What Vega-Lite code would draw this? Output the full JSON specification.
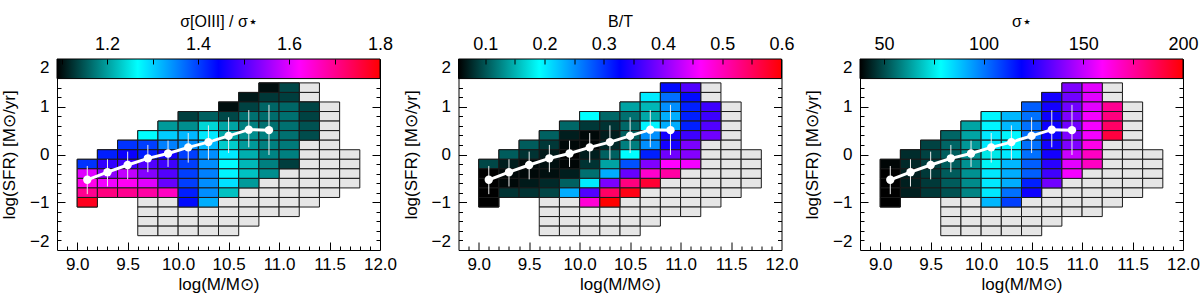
{
  "$schema": "https://vega.github.io/schema/vega-lite/v6.json",
  "background": "white",
  "padding": {"left": 0, "top": 12, "right": 0, "bottom": 0},
  "config": {
    "font": "Liberation Sans",
    "view": {"stroke": "#000", "strokeWidth": 1},
    "axis": {"labelFontSize": 17, "titleFontSize": 17, "labelColor": "#000", "titleColor": "#000", "titleFontWeight": "normal", "tickColor": "#000", "grid": false, "domain": false}
  },
  "datasets": {
    "cells": [
      {"m0":10.8,"m1":11.0,"s0":1.3,"s1":1.5,"r":1.10,"bt":0.322,"sig":139},
      {"m0":11.0,"m1":11.2,"s0":1.3,"s1":1.5,"r":1.14,"bt":0.371,"sig":155},
      {"m0":11.2,"m1":11.4,"s0":1.3,"s1":1.5},
      {"m0":10.6,"m1":10.8,"s0":1.1,"s1":1.3,"r":1.108,"bt":0.202,"sig":122},
      {"m0":10.8,"m1":11.0,"s0":1.1,"s1":1.3,"r":1.129,"bt":0.268,"sig":137},
      {"m0":11.0,"m1":11.2,"s0":1.1,"s1":1.3,"r":1.133,"bt":0.322,"sig":155},
      {"m0":11.2,"m1":11.4,"s0":1.1,"s1":1.3},
      {"m0":10.4,"m1":10.6,"s0":0.9,"s1":1.1,"r":1.10,"bt":0.142,"sig":104},
      {"m0":10.6,"m1":10.8,"s0":0.9,"s1":1.1,"r":1.136,"bt":0.153,"sig":122},
      {"m0":10.8,"m1":11.0,"s0":0.9,"s1":1.1,"r":1.161,"bt":0.251,"sig":137},
      {"m0":11.0,"m1":11.2,"s0":0.9,"s1":1.1,"r":1.161,"bt":0.311,"sig":155},
      {"m0":11.2,"m1":11.4,"s0":0.9,"s1":1.1,"r":1.138,"bt":0.360,"sig":177},
      {"m0":11.4,"m1":11.6,"s0":0.9,"s1":1.1},
      {"m0":10.0,"m1":10.2,"s0":0.7,"s1":0.9,"r":1.133,"bt":0.191,"sig":80},
      {"m0":10.2,"m1":10.4,"s0":0.7,"s1":0.9,"r":1.157,"bt":0.110,"sig":90},
      {"m0":10.4,"m1":10.6,"s0":0.7,"s1":0.9,"r":1.14,"bt":0.115,"sig":101},
      {"m0":10.6,"m1":10.8,"s0":0.7,"s1":0.9,"r":1.168,"bt":0.145,"sig":121},
      {"m0":10.8,"m1":11.0,"s0":0.7,"s1":0.9,"r":1.165,"bt":0.235,"sig":139},
      {"m0":11.0,"m1":11.2,"s0":0.7,"s1":0.9,"r":1.168,"bt":0.311,"sig":158},
      {"m0":11.2,"m1":11.4,"s0":0.7,"s1":0.9,"r":1.136,"bt":0.360,"sig":180},
      {"m0":11.4,"m1":11.6,"s0":0.7,"s1":0.9},
      {"m0":9.8,"m1":10.0,"s0":0.5,"s1":0.7,"r":1.197,"bt":0.110,"sig":64},
      {"m0":10.0,"m1":10.2,"s0":0.5,"s1":0.7,"r":1.189,"bt":0.085,"sig":80},
      {"m0":10.2,"m1":10.4,"s0":0.5,"s1":0.7,"r":1.239,"bt":0.082,"sig":90},
      {"m0":10.4,"m1":10.6,"s0":0.5,"s1":0.7,"r":1.204,"bt":0.110,"sig":101},
      {"m0":10.6,"m1":10.8,"s0":0.5,"s1":0.7,"r":1.179,"bt":0.197,"sig":121},
      {"m0":10.8,"m1":11.0,"s0":0.5,"s1":0.7,"r":1.168,"bt":0.235,"sig":137},
      {"m0":11.0,"m1":11.2,"s0":0.5,"s1":0.7,"r":1.168,"bt":0.311,"sig":158},
      {"m0":11.2,"m1":11.4,"s0":0.5,"s1":0.7,"r":1.147,"bt":0.371,"sig":184},
      {"m0":11.4,"m1":11.6,"s0":0.5,"s1":0.7},
      {"m0":9.6,"m1":9.8,"s0":0.3,"s1":0.5,"r":1.268,"bt":0.107,"sig":54},
      {"m0":9.8,"m1":10.0,"s0":0.3,"s1":0.5,"r":1.303,"bt":0.071,"sig":64},
      {"m0":10.0,"m1":10.2,"s0":0.3,"s1":0.5,"r":1.317,"bt":0.060,"sig":82},
      {"m0":10.2,"m1":10.4,"s0":0.3,"s1":0.5,"r":1.282,"bt":0.071,"sig":80},
      {"m0":10.4,"m1":10.6,"s0":0.3,"s1":0.5,"r":1.207,"bt":0.107,"sig":101},
      {"m0":10.6,"m1":10.8,"s0":0.3,"s1":0.5,"r":1.189,"bt":0.251,"sig":121},
      {"m0":10.8,"m1":11.0,"s0":0.3,"s1":0.5,"r":1.179,"bt":0.338,"sig":139},
      {"m0":11.0,"m1":11.2,"s0":0.3,"s1":0.5,"r":1.168,"bt":0.360,"sig":158},
      {"m0":11.2,"m1":11.4,"s0":0.3,"s1":0.5,"r":1.143,"bt":0.387,"sig":190},
      {"m0":11.4,"m1":11.6,"s0":0.3,"s1":0.5},
      {"m0":9.4,"m1":9.6,"s0":0.1,"s1":0.3,"r":1.41,"bt":0.104,"sig":48.5},
      {"m0":9.6,"m1":9.8,"s0":0.1,"s1":0.3,"r":1.402,"bt":0.085,"sig":54},
      {"m0":9.8,"m1":10.0,"s0":0.1,"s1":0.3,"r":1.356,"bt":0.060,"sig":62},
      {"m0":10.0,"m1":10.2,"s0":0.1,"s1":0.3,"r":1.346,"bt":0.058,"sig":82},
      {"m0":10.2,"m1":10.4,"s0":0.1,"s1":0.3,"r":1.317,"bt":0.077,"sig":80},
      {"m0":10.4,"m1":10.6,"s0":0.1,"s1":0.3,"r":1.232,"bt":0.123,"sig":101},
      {"m0":10.6,"m1":10.8,"s0":0.1,"s1":0.3,"r":1.197,"bt":0.251,"sig":122},
      {"m0":10.8,"m1":11.0,"s0":0.1,"s1":0.3,"r":1.179,"bt":0.338,"sig":139},
      {"m0":11.0,"m1":11.2,"s0":0.1,"s1":0.3,"r":1.175,"bt":0.393,"sig":163},
      {"m0":11.2,"m1":11.4,"s0":0.1,"s1":0.3},
      {"m0":11.4,"m1":11.6,"s0":0.1,"s1":0.3},
      {"m0":9.2,"m1":9.4,"s0":-0.1,"s1":0.1,"r":1.424,"bt":0.104,"sig":45},
      {"m0":9.4,"m1":9.6,"s0":-0.1,"s1":0.1,"r":1.452,"bt":0.082,"sig":48.5},
      {"m0":9.6,"m1":9.8,"s0":-0.1,"s1":0.1,"r":1.424,"bt":0.069,"sig":53},
      {"m0":9.8,"m1":10.0,"s0":-0.1,"s1":0.1,"r":1.459,"bt":0.055,"sig":61},
      {"m0":10.0,"m1":10.2,"s0":-0.1,"s1":0.1,"r":1.402,"bt":0.071,"sig":75},
      {"m0":10.2,"m1":10.4,"s0":-0.1,"s1":0.1,"r":1.346,"bt":0.107,"sig":82},
      {"m0":10.4,"m1":10.6,"s0":-0.1,"s1":0.1,"r":1.282,"bt":0.191,"sig":101},
      {"m0":10.6,"m1":10.8,"s0":-0.1,"s1":0.1,"r":1.211,"bt":0.311,"sig":122},
      {"m0":10.8,"m1":11.0,"s0":-0.1,"s1":0.1,"r":1.182,"bt":0.387,"sig":151},
      {"m0":11.0,"m1":11.2,"s0":-0.1,"s1":0.1,"r":1.179,"bt":0.398,"sig":169},
      {"m0":11.2,"m1":11.4,"s0":-0.1,"s1":0.1},
      {"m0":11.4,"m1":11.6,"s0":-0.1,"s1":0.1},
      {"m0":11.6,"m1":11.8,"s0":-0.1,"s1":0.1},
      {"m0":9.0,"m1":9.2,"s0":-0.3,"s1":-0.1,"r":1.41,"bt":0.093,"sig":39},
      {"m0":9.2,"m1":9.4,"s0":-0.3,"s1":-0.1,"r":1.48,"bt":0.071,"sig":44.5},
      {"m0":9.4,"m1":9.6,"s0":-0.3,"s1":-0.1,"r":1.488,"bt":0.060,"sig":47.7},
      {"m0":9.6,"m1":9.8,"s0":-0.3,"s1":-0.1,"r":1.502,"bt":0.063,"sig":52.6},
      {"m0":9.8,"m1":10.0,"s0":-0.3,"s1":-0.1,"r":1.488,"bt":0.058,"sig":61},
      {"m0":10.0,"m1":10.2,"s0":-0.3,"s1":-0.1,"r":1.402,"bt":0.082,"sig":77},
      {"m0":10.2,"m1":10.4,"s0":-0.3,"s1":-0.1,"r":1.346,"bt":0.142,"sig":90},
      {"m0":10.4,"m1":10.6,"s0":-0.3,"s1":-0.1,"r":1.268,"bt":0.284,"sig":104},
      {"m0":10.6,"m1":10.8,"s0":-0.3,"s1":-0.1,"r":1.218,"bt":0.396,"sig":125.5},
      {"m0":10.8,"m1":11.0,"s0":-0.3,"s1":-0.1,"r":1.179,"bt":0.464,"sig":155},
      {"m0":11.0,"m1":11.2,"s0":-0.3,"s1":-0.1,"r":1.133,"bt":0.458,"sig":169},
      {"m0":11.2,"m1":11.4,"s0":-0.3,"s1":-0.1},
      {"m0":11.4,"m1":11.6,"s0":-0.3,"s1":-0.1},
      {"m0":11.6,"m1":11.8,"s0":-0.3,"s1":-0.1},
      {"m0":9.0,"m1":9.2,"s0":-0.5,"s1":-0.3,"r":1.601,"bt":0.055,"sig":38},
      {"m0":9.2,"m1":9.4,"s0":-0.5,"s1":-0.3,"r":1.544,"bt":0.060,"sig":43},
      {"m0":9.4,"m1":9.6,"s0":-0.5,"s1":-0.3,"r":1.58,"bt":0.060,"sig":47},
      {"m0":9.6,"m1":9.8,"s0":-0.5,"s1":-0.3,"r":1.537,"bt":0.063,"sig":52.6},
      {"m0":9.8,"m1":10.0,"s0":-0.5,"s1":-0.3,"r":1.502,"bt":0.071,"sig":61},
      {"m0":10.0,"m1":10.2,"s0":-0.5,"s1":-0.3,"r":1.402,"bt":0.115,"sig":82},
      {"m0":10.2,"m1":10.4,"s0":-0.5,"s1":-0.3,"r":1.356,"bt":0.235,"sig":91.5},
      {"m0":10.4,"m1":10.6,"s0":-0.5,"s1":-0.3,"r":1.275,"bt":0.382,"sig":104},
      {"m0":10.6,"m1":10.8,"s0":-0.5,"s1":-0.3,"r":1.225,"bt":0.491,"sig":129},
      {"m0":10.8,"m1":11.0,"s0":-0.5,"s1":-0.3,"r":1.189,"bt":0.513,"sig":158},
      {"m0":11.0,"m1":11.2,"s0":-0.5,"s1":-0.3},
      {"m0":11.2,"m1":11.4,"s0":-0.5,"s1":-0.3},
      {"m0":11.4,"m1":11.6,"s0":-0.5,"s1":-0.3},
      {"m0":11.6,"m1":11.8,"s0":-0.5,"s1":-0.3},
      {"m0":9.0,"m1":9.2,"s0":-0.7,"s1":-0.5,"r":1.637,"bt":0.055,"sig":38},
      {"m0":9.2,"m1":9.4,"s0":-0.7,"s1":-0.5,"r":1.615,"bt":0.060,"sig":43},
      {"m0":9.4,"m1":9.6,"s0":-0.7,"s1":-0.5,"r":1.63,"bt":0.069,"sig":47},
      {"m0":9.6,"m1":9.8,"s0":-0.7,"s1":-0.5,"r":1.601,"bt":0.077,"sig":52.6},
      {"m0":9.8,"m1":10.0,"s0":-0.7,"s1":-0.5,"r":1.516,"bt":0.107,"sig":60},
      {"m0":10.0,"m1":10.2,"s0":-0.7,"s1":-0.5,"r":1.402,"bt":0.202,"sig":82},
      {"m0":10.2,"m1":10.4,"s0":-0.7,"s1":-0.5,"r":1.346,"bt":0.393,"sig":91.5},
      {"m0":10.4,"m1":10.6,"s0":-0.7,"s1":-0.5,"r":1.289,"bt":0.532,"sig":114},
      {"m0":10.6,"m1":10.8,"s0":-0.7,"s1":-0.5,"r":1.197,"bt":0.573,"sig":137},
      {"m0":10.8,"m1":11.0,"s0":-0.7,"s1":-0.5},
      {"m0":11.0,"m1":11.2,"s0":-0.7,"s1":-0.5},
      {"m0":11.2,"m1":11.4,"s0":-0.7,"s1":-0.5},
      {"m0":11.4,"m1":11.6,"s0":-0.7,"s1":-0.5},
      {"m0":11.6,"m1":11.8,"s0":-0.7,"s1":-0.5},
      {"m0":9.0,"m1":9.2,"s0":-0.9,"s1":-0.7,"r":1.70,"bt":0.055,"sig":38},
      {"m0":9.2,"m1":9.4,"s0":-0.9,"s1":-0.7,"r":1.711,"bt":0.082,"sig":43},
      {"m0":9.4,"m1":9.6,"s0":-0.9,"s1":-0.7,"r":1.70,"bt":0.082,"sig":47},
      {"m0":9.6,"m1":9.8,"s0":-0.9,"s1":-0.7,"r":1.686,"bt":0.093,"sig":51},
      {"m0":9.8,"m1":10.0,"s0":-0.9,"s1":-0.7,"r":1.665,"bt":0.235,"sig":59},
      {"m0":10.0,"m1":10.2,"s0":-0.9,"s1":-0.7,"r":1.424,"bt":0.371,"sig":82},
      {"m0":10.2,"m1":10.4,"s0":-0.9,"s1":-0.7,"r":1.346,"bt":0.546,"sig":101},
      {"m0":10.4,"m1":10.6,"s0":-0.9,"s1":-0.7,"r":1.225,"bt":0.589,"sig":121},
      {"m0":10.6,"m1":10.8,"s0":-0.9,"s1":-0.7},
      {"m0":10.8,"m1":11.0,"s0":-0.9,"s1":-0.7},
      {"m0":11.0,"m1":11.2,"s0":-0.9,"s1":-0.7},
      {"m0":11.2,"m1":11.4,"s0":-0.9,"s1":-0.7},
      {"m0":11.4,"m1":11.6,"s0":-0.9,"s1":-0.7},
      {"m0":9.0,"m1":9.2,"s0":-1.1,"s1":-0.9,"r":1.779,"bt":0.055,"sig":38},
      {"m0":9.6,"m1":9.8,"s0":-1.1,"s1":-0.9},
      {"m0":9.8,"m1":10.0,"s0":-1.1,"s1":-0.9},
      {"m0":10.0,"m1":10.2,"s0":-1.1,"s1":-0.9,"r":1.438,"bt":0.486,"sig":90},
      {"m0":10.2,"m1":10.4,"s0":-1.1,"s1":-0.9,"r":1.324,"bt":0.60,"sig":109},
      {"m0":10.4,"m1":10.6,"s0":-1.1,"s1":-0.9},
      {"m0":10.6,"m1":10.8,"s0":-1.1,"s1":-0.9},
      {"m0":10.8,"m1":11.0,"s0":-1.1,"s1":-0.9},
      {"m0":11.0,"m1":11.2,"s0":-1.1,"s1":-0.9},
      {"m0":11.2,"m1":11.4,"s0":-1.1,"s1":-0.9},
      {"m0":9.6,"m1":9.8,"s0":-1.3,"s1":-1.1},
      {"m0":9.8,"m1":10.0,"s0":-1.3,"s1":-1.1},
      {"m0":10.0,"m1":10.2,"s0":-1.3,"s1":-1.1},
      {"m0":10.2,"m1":10.4,"s0":-1.3,"s1":-1.1},
      {"m0":10.4,"m1":10.6,"s0":-1.3,"s1":-1.1},
      {"m0":10.6,"m1":10.8,"s0":-1.3,"s1":-1.1},
      {"m0":10.8,"m1":11.0,"s0":-1.3,"s1":-1.1},
      {"m0":11.0,"m1":11.2,"s0":-1.3,"s1":-1.1},
      {"m0":9.6,"m1":9.8,"s0":-1.5,"s1":-1.3},
      {"m0":9.8,"m1":10.0,"s0":-1.5,"s1":-1.3},
      {"m0":10.0,"m1":10.2,"s0":-1.5,"s1":-1.3},
      {"m0":10.2,"m1":10.4,"s0":-1.5,"s1":-1.3},
      {"m0":10.4,"m1":10.6,"s0":-1.5,"s1":-1.3},
      {"m0":10.6,"m1":10.8,"s0":-1.5,"s1":-1.3},
      {"m0":9.6,"m1":9.8,"s0":-1.7,"s1":-1.5},
      {"m0":9.8,"m1":10.0,"s0":-1.7,"s1":-1.5},
      {"m0":10.0,"m1":10.2,"s0":-1.7,"s1":-1.5},
      {"m0":10.2,"m1":10.4,"s0":-1.7,"s1":-1.5},
      {"m0":10.4,"m1":10.6,"s0":-1.7,"s1":-1.5}
    ],
    "ms": [
      {"m":9.1,"mean":-0.53,"lo":-0.83,"hi":-0.24},
      {"m":9.3,"mean":-0.37,"lo":-0.67,"hi":-0.10},
      {"m":9.5,"mean":-0.22,"lo":-0.52,"hi":0.06},
      {"m":9.7,"mean":-0.08,"lo":-0.37,"hi":0.20},
      {"m":9.9,"mean":0.02,"lo":-0.26,"hi":0.29},
      {"m":10.1,"mean":0.15,"lo":-0.17,"hi":0.45},
      {"m":10.3,"mean":0.26,"lo":-0.11,"hi":0.61},
      {"m":10.5,"mean":0.39,"lo":0.03,"hi":0.78},
      {"m":10.7,"mean":0.52,"lo":0.15,"hi":0.93},
      {"m":10.9,"mean":0.51,"lo":-0.01,"hi":1.04}
    ]
  },
  "bounds": "flush",
  "spacing": 78.5,
  "resolve": {"scale": {"color": "independent"}},
  "hconcat": [
    {
      "width": 323, "height": 191,
      "layer": [
        {
          "layer": [
            {
              "data": {"name": "cells"},
              "mark": {"type": "rect", "fill": "#e6e6e6", "stroke": "#1a1a1a", "strokeWidth": 1},
              "encoding": {
                "x": {"field": "m0", "type": "quantitative", "scale": {"domain": [8.8, 12], "nice": false, "zero": false}, "axis": {"orient": "bottom", "values": [9, 9.5, 10, 10.5, 11, 11.5, 12], "format": ".1f", "ticks": false, "labelPadding": 6, "labelFlush": false, "title": "log(M/M⊙)", "titlePadding": 4}},
                "x2": {"field": "m1"},
                "y": {"field": "s0", "type": "quantitative", "scale": {"domain": [-2, 2], "nice": false, "zero": false}, "axis": {"orient": "left", "values": [-2, -1, 0, 1, 2], "format": "d", "ticks": false, "labelPadding": 8, "labelFlush": true, "title": "log(SFR) [M⊙/yr]", "titlePadding": 11}},
                "y2": {"field": "s1"}
              }
            },
            {
              "data": {"name": "cells"},
              "transform": [{"filter": "isValid(datum.r)"}],
              "mark": {"type": "rect", "stroke": "#1a1a1a", "strokeWidth": 1},
              "encoding": {
                "x": {"field": "m0", "type": "quantitative", "scale": {"domain": [8.8, 12], "nice": false, "zero": false}, "axis": {"orient": "bottom", "values": [9, 9.5, 10, 10.5, 11, 11.5], "labels": false, "tickSize": -8, "title": null, "zindex": 1}},
                "x2": {"field": "m1"},
                "y": {"field": "s0", "type": "quantitative", "scale": {"domain": [-2, 2], "nice": false, "zero": false}, "axis": {"orient": "left", "values": [-1, 0, 1], "labels": false, "tickSize": -8, "title": null, "zindex": 1}},
                "y2": {"field": "s1"},
                "color": {"field": "r", "type": "quantitative", "legend": null, "scale": {"domain": [1.09, 1.2675, 1.445, 1.6225, 1.80], "range": ["#000000", "#00ffff", "#0000ff", "#ff00ff", "#ff0000"], "interpolate": "rgb", "clamp": true}}
              }
            },
            {
              "data": {"name": "ms"},
              "mark": {"type": "rule", "color": "#eeeeee", "strokeWidth": 1},
              "encoding": {
                "x": {"field": "m", "type": "quantitative", "axis": {"orient": "bottom", "values": [8.9, 9.1, 9.2, 9.3, 9.4, 9.6, 9.7, 9.8, 9.9, 10.1, 10.2, 10.3, 10.4, 10.6, 10.7, 10.8, 10.9, 11.1, 11.2, 11.3, 11.4, 11.6, 11.7, 11.8, 11.9], "labels": false, "tickSize": -4, "title": null, "zindex": 1}},
                "y": {"field": "lo", "type": "quantitative", "axis": {"orient": "left", "values": [-1.8, -1.6, -1.4, -1.2, -0.8, -0.6, -0.4, -0.2, 0.2, 0.4, 0.6, 0.8, 1.2, 1.4], "labels": false, "tickSize": -4, "title": null, "zindex": 1}},
                "y2": {"field": "hi"}
              }
            },
            {
              "data": {"name": "ms"},
              "mark": {"type": "line", "color": "#ffffff", "strokeWidth": 3},
              "encoding": {
                "x": {"field": "m", "type": "quantitative", "axis": null},
                "y": {"field": "mean", "type": "quantitative", "axis": {"orient": "right", "values": [-1, 0, 1], "labels": false, "tickSize": -8, "title": null, "zindex": 1}}
              }
            },
            {
              "data": {"name": "ms"},
              "mark": {"type": "circle", "color": "#ffffff", "opacity": 1, "size": 70},
              "encoding": {
                "x": {"field": "m", "type": "quantitative", "axis": null},
                "y": {"field": "mean", "type": "quantitative", "axis": {"orient": "right", "values": [-1.8, -1.6, -1.4, -1.2, -0.8, -0.6, -0.4, -0.2, 0.2, 0.4, 0.6, 0.8, 1.2, 1.4], "labels": false, "tickSize": -4, "title": null, "zindex": 1}}
              }
            }
          ],
          "resolve": {"axis": {"x": "independent", "y": "independent"}}
        },
        {
          "data": {"values": [{"lo": 1.09, "hi": 1.80}]},
          "layer": [
            {
              "mark": {"type": "rect", "stroke": "#000", "strokeWidth": 1, "fill": {"gradient": "linear", "x1": 0, "y1": 0, "x2": 1, "y2": 0, "stops": [{"offset": 0, "color": "#000000"}, {"offset": 0.25, "color": "#00ffff"}, {"offset": 0.5, "color": "#0000ff"}, {"offset": 0.75, "color": "#ff00ff"}, {"offset": 1, "color": "#ff0000"}]}},
              "encoding": {
                "x": {"field": "lo", "type": "quantitative", "scale": {"domain": [1.09, 1.80], "nice": false, "zero": false}, "axis": {"orient": "top", "values": [1.2, 1.4, 1.6, 1.8], "format": ".1f", "ticks": false, "labelPadding": 6, "labelFlush": false, "labelFontSize": 18, "title": "σ[OIII] / σ⋆", "titleFontSize": 16, "titlePadding": 6}},
                "x2": {"field": "hi"},
                "y": {"datum": 1.59, "type": "quantitative", "scale": {"domain": [-2, 2], "nice": false, "zero": false}, "axis": null},
                "y2": {"datum": 2}
              }
            },
            {
              "mark": {"type": "rect", "opacity": 0},
              "encoding": {
                "x": {"field": "lo", "type": "quantitative", "scale": {"domain": [1.09, 1.80], "nice": false, "zero": false}, "axis": {"orient": "top", "values": [1.1, 1.2, 1.3, 1.4, 1.5, 1.6, 1.7], "labels": false, "tickSize": -5, "title": null, "zindex": 2}},
                "x2": {"field": "hi"},
                "y": {"datum": 1.59, "type": "quantitative", "axis": null},
                "y2": {"datum": 2}
              }
            }
          ],
          "resolve": {"axis": {"x": "independent"}}
        }
      ],
      "resolve": {"scale": {"x": "independent"}, "axis": {"x": "independent", "y": "independent"}}
    },
    {
      "width": 323, "height": 191,
      "layer": [
        {
          "layer": [
            {
              "data": {"name": "cells"},
              "mark": {"type": "rect", "fill": "#e6e6e6", "stroke": "#1a1a1a", "strokeWidth": 1},
              "encoding": {
                "x": {"field": "m0", "type": "quantitative", "scale": {"domain": [8.8, 12], "nice": false, "zero": false}, "axis": {"orient": "bottom", "values": [9, 9.5, 10, 10.5, 11, 11.5, 12], "format": ".1f", "ticks": false, "labelPadding": 6, "labelFlush": false, "title": "log(M/M⊙)", "titlePadding": 4}},
                "x2": {"field": "m1"},
                "y": {"field": "s0", "type": "quantitative", "scale": {"domain": [-2, 2], "nice": false, "zero": false}, "axis": {"orient": "left", "values": [-2, -1, 0, 1, 2], "format": "d", "ticks": false, "labelPadding": 8, "labelFlush": true, "title": "log(SFR) [M⊙/yr]", "titlePadding": 11}},
                "y2": {"field": "s1"}
              }
            },
            {
              "data": {"name": "cells"},
              "transform": [{"filter": "isValid(datum.bt)"}],
              "mark": {"type": "rect", "stroke": "#1a1a1a", "strokeWidth": 1},
              "encoding": {
                "x": {"field": "m0", "type": "quantitative", "scale": {"domain": [8.8, 12], "nice": false, "zero": false}, "axis": {"orient": "bottom", "values": [9, 9.5, 10, 10.5, 11, 11.5], "labels": false, "tickSize": -8, "title": null, "zindex": 1}},
                "x2": {"field": "m1"},
                "y": {"field": "s0", "type": "quantitative", "scale": {"domain": [-2, 2], "nice": false, "zero": false}, "axis": {"orient": "left", "values": [-1, 0, 1], "labels": false, "tickSize": -8, "title": null, "zindex": 1}},
                "y2": {"field": "s1"},
                "color": {"field": "bt", "type": "quantitative", "legend": null, "scale": {"domain": [0.055, 0.19125, 0.3275, 0.46375, 0.60], "range": ["#000000", "#00ffff", "#0000ff", "#ff00ff", "#ff0000"], "interpolate": "rgb", "clamp": true}}
              }
            },
            {
              "data": {"name": "ms"},
              "mark": {"type": "rule", "color": "#eeeeee", "strokeWidth": 1},
              "encoding": {
                "x": {"field": "m", "type": "quantitative", "axis": {"orient": "bottom", "values": [8.9, 9.1, 9.2, 9.3, 9.4, 9.6, 9.7, 9.8, 9.9, 10.1, 10.2, 10.3, 10.4, 10.6, 10.7, 10.8, 10.9, 11.1, 11.2, 11.3, 11.4, 11.6, 11.7, 11.8, 11.9], "labels": false, "tickSize": -4, "title": null, "zindex": 1}},
                "y": {"field": "lo", "type": "quantitative", "axis": {"orient": "left", "values": [-1.8, -1.6, -1.4, -1.2, -0.8, -0.6, -0.4, -0.2, 0.2, 0.4, 0.6, 0.8, 1.2, 1.4], "labels": false, "tickSize": -4, "title": null, "zindex": 1}},
                "y2": {"field": "hi"}
              }
            },
            {
              "data": {"name": "ms"},
              "mark": {"type": "line", "color": "#ffffff", "strokeWidth": 3},
              "encoding": {
                "x": {"field": "m", "type": "quantitative", "axis": null},
                "y": {"field": "mean", "type": "quantitative", "axis": {"orient": "right", "values": [-1, 0, 1], "labels": false, "tickSize": -8, "title": null, "zindex": 1}}
              }
            },
            {
              "data": {"name": "ms"},
              "mark": {"type": "circle", "color": "#ffffff", "opacity": 1, "size": 70},
              "encoding": {
                "x": {"field": "m", "type": "quantitative", "axis": null},
                "y": {"field": "mean", "type": "quantitative", "axis": {"orient": "right", "values": [-1.8, -1.6, -1.4, -1.2, -0.8, -0.6, -0.4, -0.2, 0.2, 0.4, 0.6, 0.8, 1.2, 1.4], "labels": false, "tickSize": -4, "title": null, "zindex": 1}}
              }
            }
          ],
          "resolve": {"axis": {"x": "independent", "y": "independent"}}
        },
        {
          "data": {"values": [{"lo": 0.055, "hi": 0.60}]},
          "layer": [
            {
              "mark": {"type": "rect", "stroke": "#000", "strokeWidth": 1, "fill": {"gradient": "linear", "x1": 0, "y1": 0, "x2": 1, "y2": 0, "stops": [{"offset": 0, "color": "#000000"}, {"offset": 0.25, "color": "#00ffff"}, {"offset": 0.5, "color": "#0000ff"}, {"offset": 0.75, "color": "#ff00ff"}, {"offset": 1, "color": "#ff0000"}]}},
              "encoding": {
                "x": {"field": "lo", "type": "quantitative", "scale": {"domain": [0.055, 0.60], "nice": false, "zero": false}, "axis": {"orient": "top", "values": [0.1, 0.2, 0.3, 0.4, 0.5, 0.6], "format": ".1f", "ticks": false, "labelPadding": 6, "labelFlush": false, "labelFontSize": 18, "title": "B/T", "titleFontSize": 16, "titlePadding": 6}},
                "x2": {"field": "hi"},
                "y": {"datum": 1.59, "type": "quantitative", "scale": {"domain": [-2, 2], "nice": false, "zero": false}, "axis": null},
                "y2": {"datum": 2}
              }
            },
            {
              "mark": {"type": "rect", "opacity": 0},
              "encoding": {
                "x": {"field": "lo", "type": "quantitative", "scale": {"domain": [0.055, 0.60], "nice": false, "zero": false}, "axis": {"orient": "top", "values": [0.1, 0.15, 0.2, 0.25, 0.3, 0.35, 0.4, 0.45, 0.5, 0.55], "labels": false, "tickSize": -5, "title": null, "zindex": 2}},
                "x2": {"field": "hi"},
                "y": {"datum": 1.59, "type": "quantitative", "axis": null},
                "y2": {"datum": 2}
              }
            }
          ],
          "resolve": {"axis": {"x": "independent"}}
        }
      ],
      "resolve": {"scale": {"x": "independent"}, "axis": {"x": "independent", "y": "independent"}}
    },
    {
      "width": 323, "height": 191,
      "layer": [
        {
          "layer": [
            {
              "data": {"name": "cells"},
              "mark": {"type": "rect", "fill": "#e6e6e6", "stroke": "#1a1a1a", "strokeWidth": 1},
              "encoding": {
                "x": {"field": "m0", "type": "quantitative", "scale": {"domain": [8.8, 12], "nice": false, "zero": false}, "axis": {"orient": "bottom", "values": [9, 9.5, 10, 10.5, 11, 11.5, 12], "format": ".1f", "ticks": false, "labelPadding": 6, "labelFlush": false, "title": "log(M/M⊙)", "titlePadding": 4}},
                "x2": {"field": "m1"},
                "y": {"field": "s0", "type": "quantitative", "scale": {"domain": [-2, 2], "nice": false, "zero": false}, "axis": {"orient": "left", "values": [-2, -1, 0, 1, 2], "format": "d", "ticks": false, "labelPadding": 8, "labelFlush": true, "title": "log(SFR) [M⊙/yr]", "titlePadding": 11}},
                "y2": {"field": "s1"}
              }
            },
            {
              "data": {"name": "cells"},
              "transform": [{"filter": "isValid(datum.sig)"}],
              "mark": {"type": "rect", "stroke": "#1a1a1a", "strokeWidth": 1},
              "encoding": {
                "x": {"field": "m0", "type": "quantitative", "scale": {"domain": [8.8, 12], "nice": false, "zero": false}, "axis": {"orient": "bottom", "values": [9, 9.5, 10, 10.5, 11, 11.5], "labels": false, "tickSize": -8, "title": null, "zindex": 1}},
                "x2": {"field": "m1"},
                "y": {"field": "s0", "type": "quantitative", "scale": {"domain": [-2, 2], "nice": false, "zero": false}, "axis": {"orient": "left", "values": [-1, 0, 1], "labels": false, "tickSize": -8, "title": null, "zindex": 1}},
                "y2": {"field": "s1"},
                "color": {"field": "sig", "type": "quantitative", "legend": null, "scale": {"domain": [38, 78.5, 119, 159.5, 200], "range": ["#000000", "#00ffff", "#0000ff", "#ff00ff", "#ff0000"], "interpolate": "rgb", "clamp": true}}
              }
            },
            {
              "data": {"name": "ms"},
              "mark": {"type": "rule", "color": "#eeeeee", "strokeWidth": 1},
              "encoding": {
                "x": {"field": "m", "type": "quantitative", "axis": {"orient": "bottom", "values": [8.9, 9.1, 9.2, 9.3, 9.4, 9.6, 9.7, 9.8, 9.9, 10.1, 10.2, 10.3, 10.4, 10.6, 10.7, 10.8, 10.9, 11.1, 11.2, 11.3, 11.4, 11.6, 11.7, 11.8, 11.9], "labels": false, "tickSize": -4, "title": null, "zindex": 1}},
                "y": {"field": "lo", "type": "quantitative", "axis": {"orient": "left", "values": [-1.8, -1.6, -1.4, -1.2, -0.8, -0.6, -0.4, -0.2, 0.2, 0.4, 0.6, 0.8, 1.2, 1.4], "labels": false, "tickSize": -4, "title": null, "zindex": 1}},
                "y2": {"field": "hi"}
              }
            },
            {
              "data": {"name": "ms"},
              "mark": {"type": "line", "color": "#ffffff", "strokeWidth": 3},
              "encoding": {
                "x": {"field": "m", "type": "quantitative", "axis": null},
                "y": {"field": "mean", "type": "quantitative", "axis": {"orient": "right", "values": [-1, 0, 1], "labels": false, "tickSize": -8, "title": null, "zindex": 1}}
              }
            },
            {
              "data": {"name": "ms"},
              "mark": {"type": "circle", "color": "#ffffff", "opacity": 1, "size": 70},
              "encoding": {
                "x": {"field": "m", "type": "quantitative", "axis": null},
                "y": {"field": "mean", "type": "quantitative", "axis": {"orient": "right", "values": [-1.8, -1.6, -1.4, -1.2, -0.8, -0.6, -0.4, -0.2, 0.2, 0.4, 0.6, 0.8, 1.2, 1.4], "labels": false, "tickSize": -4, "title": null, "zindex": 1}}
              }
            }
          ],
          "resolve": {"axis": {"x": "independent", "y": "independent"}}
        },
        {
          "data": {"values": [{"lo": 38, "hi": 200}]},
          "layer": [
            {
              "mark": {"type": "rect", "stroke": "#000", "strokeWidth": 1, "fill": {"gradient": "linear", "x1": 0, "y1": 0, "x2": 1, "y2": 0, "stops": [{"offset": 0, "color": "#000000"}, {"offset": 0.25, "color": "#00ffff"}, {"offset": 0.5, "color": "#0000ff"}, {"offset": 0.75, "color": "#ff00ff"}, {"offset": 1, "color": "#ff0000"}]}},
              "encoding": {
                "x": {"field": "lo", "type": "quantitative", "scale": {"domain": [38, 200], "nice": false, "zero": false}, "axis": {"orient": "top", "values": [50, 100, 150, 200], "format": "d", "ticks": false, "labelPadding": 6, "labelFlush": false, "labelFontSize": 18, "title": "σ⋆", "titleFontSize": 16, "titlePadding": 6}},
                "x2": {"field": "hi"},
                "y": {"datum": 1.59, "type": "quantitative", "scale": {"domain": [-2, 2], "nice": false, "zero": false}, "axis": null},
                "y2": {"datum": 2}
              }
            },
            {
              "mark": {"type": "rect", "opacity": 0},
              "encoding": {
                "x": {"field": "lo", "type": "quantitative", "scale": {"domain": [38, 200], "nice": false, "zero": false}, "axis": {"orient": "top", "values": [50, 75, 100, 125, 150, 175], "labels": false, "tickSize": -5, "title": null, "zindex": 2}},
                "x2": {"field": "hi"},
                "y": {"datum": 1.59, "type": "quantitative", "axis": null},
                "y2": {"datum": 2}
              }
            }
          ],
          "resolve": {"axis": {"x": "independent"}}
        }
      ],
      "resolve": {"scale": {"x": "independent"}, "axis": {"x": "independent", "y": "independent"}}
    }
  ]
}
